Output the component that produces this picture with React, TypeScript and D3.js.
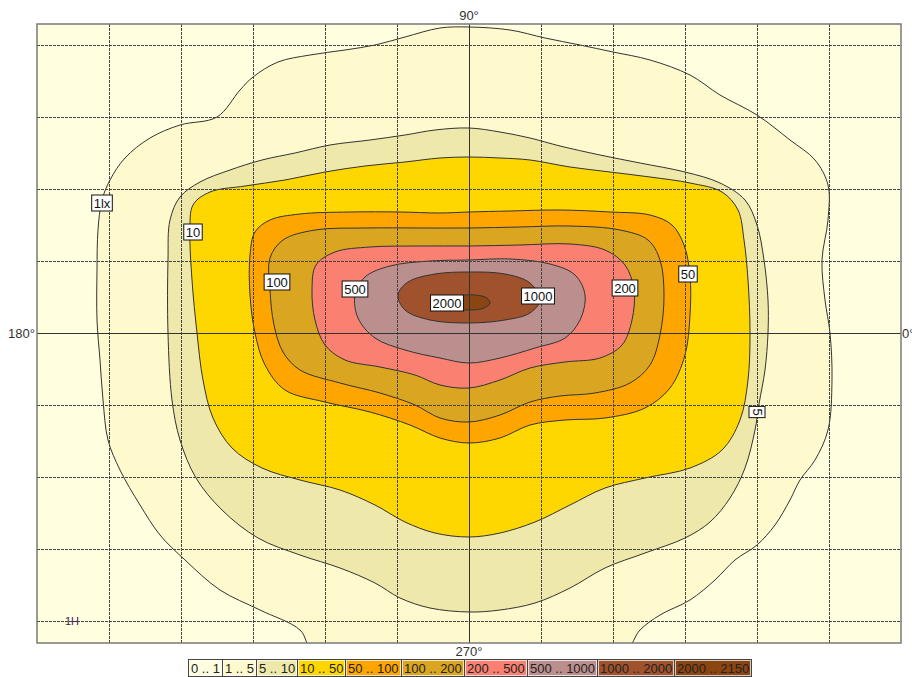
import React, { useMemo } from "react";
import * as d3 from "d3";

const W = 912;
const H = 677;

// Band legend
const legendLabels = ["0 .. 1", "1 .. 5", "5 .. 10", "10 .. 50", "50 .. 100", "100 .. 200", "200 .. 500", "500 .. 1000", "1000 .. 2000", "2000 .. 2150"];
const bandColors = ["lightyellow", "lemonchiffon", "palegoldenrod", "gold", "orange", "goldenrod", "salmon", "rosybrown", "sienna", "saddlebrown"];
const levels = [1, 5, 10, 50, 100, 200, 500, 1000, 2000];

// Axis (direction) labels
const dirLabels = ["90°", "180°", "0°", "270°"];

// Isolines (grid units, 18 per grid cell)
const iso1: [number, number][] = [
  [0, 76.5], [10.25, 75.75], [19, 73.75], [27.75, 72], [36, 70.25], [45.25, 68.25], [55.25, 64.5], [62.75, 59.5],
  [72, 54.5], [80.25, 48.25], [86.5, 43.25], [89.75, 37], [89.75, 28.25], [88.25, 18.25], [89, 8.25], [90.25, 0],
  [90.75, -11.75], [89.75, -24.25], [86.5, -31.75], [82.75, -36.75], [80.25, -41.75], [76.5, -48], [72, -53],
  [66.5, -56.75], [61.5, -61.75], [55.25, -66.75], [47.75, -70.5], [42.75, -74.25], [39, -79.5], [20, -82], [-20, -82], [-39, -79.5],
  [-42.25, -74.25], [-52.25, -69.25], [-62.25, -64.25], [-71, -56.75], [-77.25, -50.5], [-82.25, -43], [-87.25, -34.25],
  [-90.25, -26.75], [-91.5, -16.75], [-92.25, -6.75], [-93, 3.25], [-93, 15.75], [-92.75, 25.75], [-91.75, 33.25],
  [-89.75, 38.25], [-86, 43.75], [-79.75, 48.75], [-72.25, 52], [-63, 54], [-57.25, 60.75], [-54, 64], [-47.75, 67.75],
  [-39.75, 69.5], [-31, 70.75], [-23.5, 72], [-16, 74], [-7.25, 76.25],
];
const iso5: [number, number][] = [
  [0, 51.25], [7.75, 50.25], [15.25, 48.75], [22.75, 46.75], [32.75, 44.5], [42.75, 42.5], [54, 40.25], [62.75, 37.5],
  [69, 33.25], [72, 27], [73.75, 18.25], [74.75, 8.25], [74.75, 0], [74, -9.25], [72.5, -17.75], [71.5, -24.25],
  [69, -33.75], [65.25, -41.25], [60.25, -47.25], [54, -51.25], [44, -55], [34, -58.75], [25.25, -63.75], [16.5, -67.5],
  [7.75, -69.25], [0, -69.75], [-9.75, -68.75], [-17.25, -66.25], [-23.5, -62.5], [-32.25, -58.75], [-42.25, -55.5],
  [-52.75, -51.25], [-61.75, -44.25], [-68.25, -36.25], [-72.25, -26.75], [-74.25, -16.75], [-75.25, 0], [-75.25, 18.25],
  [-74.75, 28.25], [-72.25, 34], [-67.25, 37.75], [-59.75, 40.75], [-51.75, 43.25], [-43.5, 45], [-34.75, 47],
  [-24.75, 48.25], [-16, 49.5], [-8.5, 50.75],
];
const iso10: [number, number][] = [
  [0, 44], [7.75, 43.75], [15.25, 43.25], [25.25, 41.5], [35.25, 40.25], [45.25, 39], [55.25, 37.5], [63.25, 35.25],
  [67.25, 30.75], [68.75, 23.25], [69.75, 13.25], [70.25, 0], [69.75, -11.75], [67.75, -21.75], [63.25, -29.25],
  [55.25, -33.75], [44, -36.25], [34, -38.75], [25.25, -43], [16.5, -47.25], [7.75, -50], [0, -51], [-8.5, -50],
  [-16, -47.25], [-23.5, -43], [-32.25, -39.25], [-42.25, -36.75], [-51.75, -33.75], [-59.25, -28.75], [-64, -21.25],
  [-66.5, -11.75], [-68, 0], [-69.25, 13.25], [-69.75, 25.25], [-69, 32], [-64.75, 35.25], [-56, 36.75], [-46, 38.25],
  [-36, 40.25], [-26, 41.75], [-16, 42.75], [-7.25, 43.75],
];
const iso50: [number, number][] = [
  [0, 30.25], [10.25, 30.5], [22.75, 30.75], [35.25, 30.25], [45.25, 29.5], [50.75, 27], [53.75, 22], [55.25, 14.5],
  [55.25, 4.5], [54, -5.5], [50.25, -13.75], [44, -18.75], [34, -21.25], [24, -21.75], [15.25, -23], [7.75, -26.25],
  [0, -27.5], [-7.25, -26.25], [-14.75, -23], [-24.75, -19.75], [-36, -17.25], [-46, -14.25], [-51, -8], [-53.5, 0],
  [-54.75, 9.5], [-54.75, 19.5], [-53.5, 25.25], [-49.75, 28.25], [-42.25, 29.75], [-29.75, 30.25], [-17.25, 30.25],
  [-7.25, 30],
];
const iso100: [number, number][] = [
  [0, 26.25], [12.75, 26.5], [25.25, 26.75], [37.75, 25.75], [44.75, 23.25], [47.75, 18.25], [48.75, 9.5], [47.75, -0.5],
  [45.25, -8], [40.25, -12.5], [31.5, -15], [22.75, -15.75], [15.25, -17.25], [7.75, -20.5], [0, -22.25], [-7.25, -21.25],
  [-13.5, -18], [-22.25, -15], [-32.25, -12.5], [-42.25, -9.25], [-46.5, -4.75], [-48.75, 2], [-49.75, 10.75],
  [-49.75, 18.75], [-46.5, 23.25], [-38.5, 25.75], [-26, 26.25], [-12.25, 26.25],
];
const iso200: [number, number][] = [
  [0, 21.75], [12.75, 22], [25.25, 22.25], [34, 20.75], [39, 17], [41.25, 10.75], [40.75, 3.25], [38.25, -3],
  [32.75, -6.25], [24, -7.25], [15.25, -8.75], [7.75, -11.75], [0, -13.75], [-7.25, -13], [-13.5, -10.5], [-22.25, -8.5],
  [-31, -6.75], [-36, -3], [-38.5, 3.25], [-39.25, 10.75], [-38.25, 17], [-33.5, 20.25], [-24.75, 21.5], [-12.25, 21.75],
];
const iso500: [number, number][] = [
  [0, 18.25], [10.25, 18.5], [20.25, 17.25], [26.5, 14.5], [29, 9.5], [27.75, 3.25], [24, -1.25], [16.5, -3.75],
  [7.75, -6.25], [0, -7.5], [-7.25, -6.25], [-16, -4.25], [-23.5, -1.25], [-27.75, 3.75], [-28.5, 9.5], [-26, 14],
  [-19.75, 16.75], [-9.75, 18],
];
const iso1000: [number, number][] = [
  [0, 15.25], [9, 14.75], [15.25, 12.5], [17.75, 8.25], [15.25, 5], [9, 3.25], [0, 2.5], [-9.75, 3.25], [-16, 5.75],
  [-17.75, 9.5], [-15.25, 12.75], [-8.5, 14.75],
];
const iso2000: [number, number][] = [
  [-2.75, 9], [4, 9], [5.25, 7.5], [3.75, 6.25], [0.25, 5.75], [-2.75, 6.25],
];
const isolines = [iso1, iso5, iso10, iso50, iso100, iso200, iso500, iso1000, iso2000];

// Isoline value labels
const isoLabelTexts = ["1lx", "10", "100", "500", "2000", "1000", "200", "50", "5"];
const isoLabelPts: [number, number][] = [
  [-91.75, 32.5], [-69, 25.25], [-48, 12.75], [-28.5, 11], [-5.5, 7.5], [17.25, 9.25], [39, 11.25], [54.75, 14.75], [72, -19.75],
];
const isoLabelRot = [0, 0, 0, 0, 0, 0, 0, 0, 90];

const cornerLabel = "1H";
const cornerPt: [number, number] = [-99.25, -72];

const FONT = "'Liberation Sans', Arial, sans-serif";

function textWidth(s: string, size: number) {
  if (typeof document === "undefined") return s.length * size * 0.55;
  const c = document.createElement("canvas");
  const ctx = c.getContext("2d");
  if (!ctx) return s.length * size * 0.55;
  ctx.font = `${size}px ${FONT}`;
  return ctx.measureText(s).width;
}

export default function App() {
  const x = d3.scaleLinear().domain([-108, 108]).range([37, 901]);
  const y = d3.scaleLinear().domain([-77.5, 77.25]).range([643, 24]);
  const xTicks = d3.range(-90, 91, 18);
  const yTicks = d3.range(-72, 73, 18);

  const line = d3
    .line<[number, number]>()
    .x((d) => x(d[0]))
    .y((d) => y(d[1]))
    .curve(d3.curveCatmullRomClosed.alpha(0.5));

  const legend = useMemo(() => {
    const ws = legendLabels.map((l) => Math.round(textWidth(l, 13) + 5));
    const total = d3.sum(ws);
    let cx = Math.round(x(0) - total / 2);
    return ws.map((w, i) => {
      const o = { x: cx, w, label: legendLabels[i], color: bandColors[i] };
      cx += w;
      return o;
    });
  }, []);

  const px0 = x(-108), px1 = x(108), py0 = y(77.25), py1 = y(-77.5);

  return (
    <div style={{ position: "absolute", left: 0, top: 0 }}>
      <svg width={W} height={H} style={{ display: "block", background: "#fff" }} fontFamily={FONT}>
        <defs>
          <clipPath id="plotclip">
            <rect x={px0} y={py0} width={px1 - px0} height={py1 - py0} />
          </clipPath>
        </defs>
        <rect x={px0} y={py0} width={px1 - px0} height={py1 - py0} fill={bandColors[0]} />
        <g clipPath="url(#plotclip)">
          {isolines.map((pts, i) => (
            <path key={i} d={line(pts) || ""} fill={bandColors[i + 1]} stroke="#333" strokeWidth={1} data-level={levels[i]} />
          ))}
          {xTicks.map((t) =>
            t === 0 ? null : (
              <line key={"gx" + t} x1={x(t)} x2={x(t)} y1={py0} y2={py1} stroke="#444" strokeWidth={1} strokeDasharray="3,1" shapeRendering="crispEdges" />
            )
          )}
          {yTicks.map((t) =>
            t === 0 ? null : (
              <line key={"gy" + t} x1={px0} x2={px1} y1={y(t)} y2={y(t)} stroke="#444" strokeWidth={1} strokeDasharray="3,1" shapeRendering="crispEdges" />
            )
          )}
          <line x1={x(0)} x2={x(0)} y1={py0} y2={py1} stroke="#333" strokeWidth={1} shapeRendering="crispEdges" />
          <line x1={px0} x2={px1} y1={y(0)} y2={y(0)} stroke="#333" strokeWidth={1} shapeRendering="crispEdges" />
        </g>
        <rect x={px0} y={py0} width={px1 - px0} height={py1 - py0} fill="none" stroke="#7a7a7a" strokeWidth={1.5} />

        {isoLabelTexts.map((t, i) => {
          const w = textWidth(t, 13) + 4;
          const h = 16;
          const cx = x(isoLabelPts[i][0]);
          const cy = y(isoLabelPts[i][1]);
          return (
            <g key={"lab" + i} transform={`translate(${cx},${cy}) rotate(${isoLabelRot[i]})`}>
              <rect x={-w / 2} y={-h / 2} width={w} height={h} fill="#fff" stroke="#111" strokeWidth={1} />
              <text x={0} y={4.5} textAnchor="middle" fontSize={13} fill="#111">
                {t}
              </text>
            </g>
          );
        })}

        <text x={x(0)} y={py0 - 4} textAnchor="middle" fontSize={13} fill="#333">{dirLabels[0]}</text>
        <text x={px0 - 2} y={y(0) + 5} textAnchor="end" fontSize={13} fill="#333">{dirLabels[1]}</text>
        <text x={px1 + 1} y={y(0) + 5} textAnchor="start" fontSize={13} fill="#333">{dirLabels[2]}</text>
        <text x={x(0)} y={py1 + 13} textAnchor="middle" fontSize={13} fill="#333">{dirLabels[3]}</text>

        <text x={x(cornerPt[0])} y={y(cornerPt[1]) + 4} textAnchor="middle" fontSize={11} fill="#442255">{cornerLabel}</text>

        {legend.map((c, i) => (
          <g key={"lg" + i}>
            <rect x={c.x + 0.5} y={659.5} width={c.w} height={17} fill={c.color} stroke="#444" strokeWidth={1} />
            <rect x={c.x + 1.5} y={660.5} width={c.w - 2} height={15} fill="none" stroke="#fff" strokeOpacity={0.7} strokeWidth={1} />
            <text x={c.x + 3} y={673} fontSize={13} fill="#222">{c.label}</text>
          </g>
        ))}
      </svg>
    </div>
  );
}
